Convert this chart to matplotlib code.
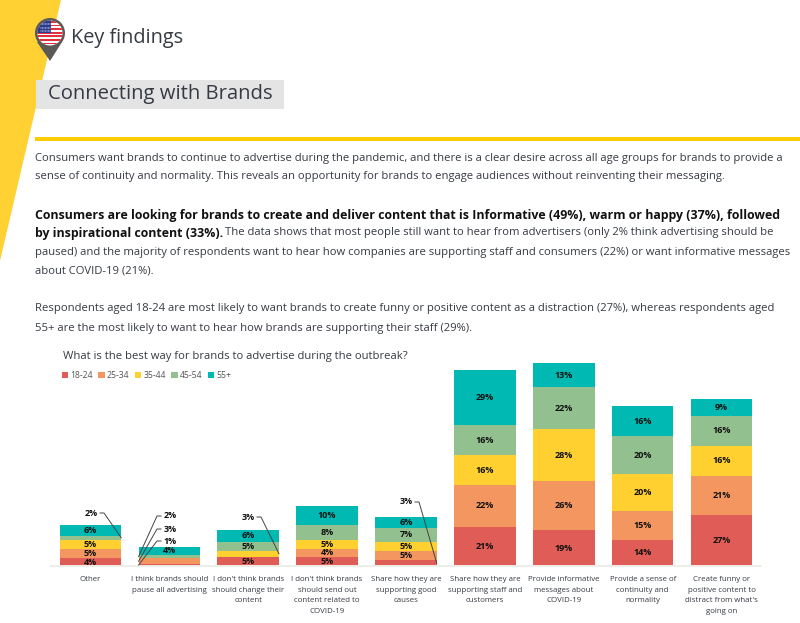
import matplotlib
matplotlib.use('Agg')
import matplotlib.pyplot as plt
import numpy as np
from matplotlib.patches import Polygon, Rectangle, Circle

plt.rcParams['font.family'] = ['Open Sans', 'DejaVu Sans']

# chart data, % per age group
categories = ['Other',
              'I think brands should\npause all advertising',
              "I don't think brands\nshould change their\ncontent",
              "I don't think brands\nshould send out\ncontent related to\nCOVID-19",
              'Share how they are\nsupporting good\ncauses',
              'Share how they are\nsupporting staff and\ncustomers',
              'Provide informative\nmessages about\nCOVID-19',
              'Provide a sense of\ncontinuity and\nnormality',
              'Create funny or\npositive content to\ndistract from what\'s\ngoing on']
ages = ['18-24', '25-34', '35-44', '45-54', '55+']
age_18_24 = [4, 1, 5, 5, 3, 21, 19, 14, 27]
age_25_34 = [5, 3, 0, 4, 5, 22, 26, 15, 21]
age_35_44 = [5, 0, 3, 5, 5, 16, 28, 20, 16]
age_45_54 = [2, 2, 5, 8, 7, 16, 22, 20, 16]
age_55_up = [6, 4, 6, 10, 6, 29, 13, 16, 9]
series = [age_18_24, age_25_34, age_35_44, age_45_54, age_55_up]
colors = ['#e05c56', '#f39660', '#ffd02f', '#93c08f', '#00b9b2']

# small values get a leader line: bar, series, bar side it lands on, label x/y on the page [px]
callouts = [(0, 3, 1, 91, 513),
            (1, 3, -1, 170, 516), (1, 1, -1, 170, 529), (1, 0, -1, 170, 541),
            (2, 2, 1, 248, 517),
            (4, 0, 1, 406, 502)]

text_col = '#363b43'
W, H = 800, 623

fig = plt.figure(figsize=(W / 100, H / 100), dpi=100)

# page layer, works in pixels
page = fig.add_axes([0, 0, 1, 1])
page.set_xlim(0, W)
page.set_ylim(H, 0)
page.axis('off')

page.add_patch(Polygon([[0, 0], [61, 0], [0, 261]], color='#ffd133', lw=0))
page.add_patch(Rectangle((35, 137), 765, 4, color='#ffcc00', lw=0))
page.add_patch(Rectangle((36, 80), 248, 29, color='#e4e4e4', lw=0))

# flag pin
page.add_patch(Polygon([[37, 42], [62, 42], [50, 61]], color='#5b5a56', lw=0))
page.add_patch(Circle((50, 33), 15, color='#5b5a56', lw=0))
flag = Circle((50, 33), 12.5, color='white', lw=0)
page.add_patch(flag)
for i in range(7):
    s = Rectangle((36, 21 + i * 3.6), 28, 1.8, color='#e0323c', lw=0)
    page.add_patch(s)
    s.set_clip_path(flag)
canton = Rectangle((36, 20), 15, 13, color='#2b3a8c', lw=0)
page.add_patch(canton)
canton.set_clip_path(flag)
for sx in [41, 44, 47, 50, 42.5, 45.5, 48.5]:
    for sy in [24, 28, 31]:
        st = Circle((sx, sy), 0.5, color='white', lw=0)
        page.add_patch(st)
        st.set_clip_path(flag)

page.text(71, 37.5, 'Key findings', fontsize=14.3, color=text_col, va='center')
page.text(48, 94, 'Connecting with Brands', fontsize=14.6, color=text_col, va='center')

body = [(35, 158, 'Consumers want brands to continue to advertise during the pandemic, and there is a clear desire across all age groups for brands to provide a', 'normal'),
        (35, 176, 'sense of continuity and normality. This reveals an opportunity for brands to engage audiences without reinventing their messaging.', 'normal'),
        (35, 215, 'Consumers are looking for brands to create and deliver content that is Informative (49%), warm or happy (37%), followed', 'bold'),
        (35, 233, 'by inspirational content (33%).', 'bold'),
        (225, 233, 'The data shows that most people still want to hear from advertisers (only 2% think advertising should be', 'normal'),
        (35, 252, 'paused) and the majority of respondents want to hear how companies are supporting staff and consumers (22%) or want informative messages', 'normal'),
        (35, 271, 'about COVID-19 (21%).', 'normal'),
        (35, 309, 'Respondents aged 18-24 are most likely to want brands to create funny or positive content as a distraction (27%), whereas respondents aged', 'normal'),
        (35, 328, '55+ are the most likely to want to hear how brands are supporting their staff (29%).', 'normal')]
for x, y, line, weight in body:
    bold = weight == 'bold'
    page.text(x, y, line, fontsize=8.9 if bold else 8.12, color='#111111' if bold else text_col,
              fontweight=weight, va='center')

page.text(63, 356, 'What is the best way for brands to advertise during the outbreak?',
          fontsize=8.1, color=text_col, va='center')

# stacked bars
ax = fig.add_axes([51 / W, 1 - 566 / H, 710 / W, 206.8 / H])
ax.patch.set_alpha(0)
xpos = np.arange(len(categories))
bottom = np.zeros(len(categories))
for vals, col, age in zip(series, colors, ages):
    vals = np.array(vals)
    ax.bar(xpos, vals, 0.78, bottom=bottom, color=col, label=age, lw=0)
    for x, v, y0 in zip(xpos, vals, bottom):
        if v >= 4:
            ax.text(x, y0 + v / 2, f'{v}%', ha='center', va='center',
                    fontsize=6.5, fontweight='bold', color='#111111')
    bottom = bottom + vals

ax.set_xlim(-0.5, 8.5)
ax.set_ylim(0, 110)
ax.set_yticks([])
ax.set_xticks(xpos)
ax.set_xticklabels(categories, fontsize=5.7, color=text_col, linespacing=1.7, va='top')
ax.tick_params(axis='x', length=0, pad=7.5)
for side in ['top', 'left', 'right']:
    ax.spines[side].set_visible(False)
ax.spines['bottom'].set_color('#eeeee8')
ax.spines['bottom'].set_linewidth(1.4)

# leader lines from labels to the segments, drawn over the bars
to_page = lambda bx, by: page.transData.inverted().transform(ax.transData.transform((bx, by)))
for bar, s, side, lx, ly in callouts:
    v = series[s][bar]
    mid = sum(ser[bar] for ser in series[:s]) + v / 2
    px, py = to_page(bar + side * 0.39, mid)
    line_x = [lx + side * 9, lx + side * 13, px]
    ax.plot(line_x, [ly, ly, py], color='#444444', lw=0.7, zorder=5,
            transform=page.transData, clip_on=False)
    ax.text(lx, ly, f'{v}%', ha='center', va='center', fontsize=6.5,
            fontweight='bold', color='#111111', zorder=6, transform=page.transData)
ax.set_xlim(-0.5, 8.5)
ax.set_ylim(0, 110)

leg = ax.legend(loc='upper left', bbox_to_anchor=(11 / 710, 195 / 206.8), ncol=5, frameon=False,
                fontsize=6.2, handlelength=0.75, handleheight=0.75, handletextpad=0.25,
                columnspacing=0.62, borderpad=0, borderaxespad=0)
for t in leg.get_texts():
    t.set_color('#555555')

fig.savefig('out.png', dpi=100)
